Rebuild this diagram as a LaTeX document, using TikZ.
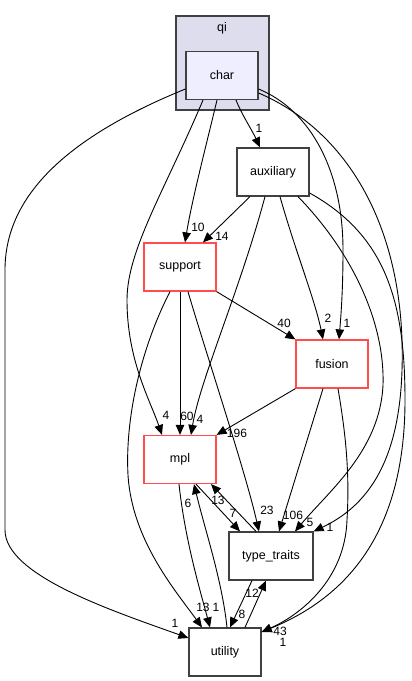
\documentclass[tikz,border=0pt]{standalone}
\usepackage{fontspec}
\setmainfont{Liberation Sans}
\usetikzlibrary{arrows.meta}
\definecolor{clfill}{HTML}{DDDDEE}
\definecolor{charfill}{HTML}{EEEEFF}
\definecolor{boxline}{HTML}{404040}
\definecolor{redline}{HTML}{FF4D4D}
\begin{document}
\begin{tikzpicture}[x=1pt,y=-1pt,
  dirbox/.style={draw=boxline,line width=1.2pt,fill=white,minimum width=72pt,minimum height=48pt,inner sep=0pt,font=\fontsize{12.5}{14}\selectfont},
  redbox/.style={dirbox,draw=redline},
  edge/.style={draw=black,line width=0.9pt,-{Triangle[length=10pt,width=8.5pt]}},
  lbl/.style={inner sep=0pt,font=\fontsize{12}{14}\selectfont}]
\useasboundingbox (0,0) rectangle (412,681);
% cluster
\node[draw=boxline,line width=1.2pt,fill=clfill,minimum width=93pt,minimum height=94pt,inner sep=0pt] (qi) at (222.5,63) {};
\node[lbl,font=\fontsize{12.5}{14}\selectfont] (qilabel) at (222,28) {qi};
% nodes
\node[dirbox,fill=charfill] (char) at (222,75.5) {char};
\node[dirbox] (auxiliary) at (273,172) {auxiliary};
\node[redbox] (support) at (180,267) {support};
\node[redbox] (fusion) at (332,364) {fusion};
\node[redbox] (mpl) at (180,459.5) {mpl};
\node[dirbox,minimum width=84pt] (type_traits) at (271,556) {type\_traits};
\node[dirbox] (utility) at (225,652) {utility};
% labels
\node[lbl] (l1) at (259,128) {1};
\node[lbl] (l2) at (198,227) {10};
\node[lbl] (l3) at (222,236) {14};
\node[lbl] (l4) at (166,415) {4};
\node[lbl] (l5) at (187,416) {60};
\node[lbl] (l6) at (200,419) {4};
\node[lbl] (l7) at (237,433) {196};
\node[lbl] (l8) at (284,323) {40};
\node[lbl] (l9) at (328,318) {2};
\node[lbl] (l10) at (347,323) {1};
\node[lbl] (l11) at (267,510) {23};
\node[lbl] (l12) at (293,515) {106};
\node[lbl] (l13) at (310,522) {5};
\node[lbl] (l14) at (330,527) {1};
\node[lbl] (l15) at (233,513) {7};
\node[lbl] (l16) at (218,500) {13};
\node[lbl] (l17) at (188,503) {6};
\node[lbl] (l18) at (203,607) {13};
\node[lbl] (l19) at (216,607) {1};
\node[lbl] (l20) at (175,623) {1};
\node[lbl] (l21) at (242,614) {8};
\node[lbl] (l22) at (252,593) {12};
\node[lbl] (l23) at (280,631) {43};
\node[lbl] (l24) at (283,642) {1};
% edges from char
\draw[edge] ([xshift=14pt]char.south) .. controls (242,115) and (252,130) .. ([xshift=-13pt]auxiliary.north);
\draw[edge] ([xshift=-5pt]char.south) .. controls (205,150) and (192,200) .. ([xshift=5pt]support.north);
\draw[edge] ([xshift=-19pt]char.south) .. controls (165,190) and (127,250) .. (127,300) .. controls (127,360) and (150,400) .. ([xshift=-18pt]mpl.north);
\draw[edge] ([yshift=-13.5pt]char.west) .. controls (60,140) and (5,200) .. (5,270) -- (5,530) .. controls (5,575) and (110,610) .. ([yshift=14pt]utility.west);
\draw[edge] ([yshift=-13.5pt]char.east) .. controls (310,110) and (343,170) .. (343,250) .. controls (343,290) and (341,315) .. ([xshift=7pt]fusion.north);
\draw[edge] ([yshift=-17.5pt]char.east) .. controls (345,130) and (398,220) .. (402,340) .. controls (405,440) and (380,500) .. (type_traits.north east);
% edges from auxiliary
\draw[edge] ([xshift=-23pt]auxiliary.south) -- ([xshift=23pt]support.north);
\draw[edge] ([xshift=-8pt]auxiliary.south) .. controls (240,290) and (200,380) .. ([xshift=11pt]mpl.north);
\draw[edge] ([xshift=7pt]auxiliary.south) .. controls (295,250) and (315,300) .. ([xshift=-9pt]fusion.north);
\draw[edge] ([xshift=25pt]auxiliary.south) .. controls (350,250) and (385,320) .. (383,385) .. controls (380,450) and (330,490) .. ([xshift=24pt]type_traits.north);
\draw[edge] ([yshift=-21pt]auxiliary.east) .. controls (385,235) and (405,300) .. (405,400) .. controls (405,540) and (340,600) .. ([yshift=20pt]utility.east);
% edges from support
\draw[edge] (support.south) -- (mpl.north);
\draw[edge] (support.south east) -- (fusion.north west);
\draw[edge] ([xshift=8pt]support.south) .. controls (205,350) and (245,470) .. ([xshift=-12pt]type_traits.north);
\draw[edge] ([xshift=-10pt]support.south) .. controls (140,350) and (125,420) .. (128,475) .. controls (132,540) and (175,590) .. ([xshift=-23pt]utility.north);
% edges from fusion
\draw[edge] (fusion.south west) -- (mpl.north east);
\draw[edge] ([xshift=-9pt]fusion.south) -- ([xshift=8pt]type_traits.north);
\draw[edge] ([xshift=6pt]fusion.south) .. controls (345,430) and (350,470) .. (347,520) .. controls (345,580) and (300,615) .. ([yshift=20pt]utility.east);
% edges among mpl, type_traits, utility
\draw[edge] ([xshift=-1pt]mpl.south) .. controls (185,540) and (200,590) .. ([xshift=-15pt]utility.north);
\draw[edge] ([xshift=2pt]utility.north) .. controls (222,580) and (205,530) .. ([xshift=14pt]mpl.south);
\draw[edge] ([xshift=16pt]mpl.south) -- ([xshift=-31pt]type_traits.north);
\draw[edge] ([xshift=-15pt]type_traits.north) -- ([xshift=31pt]mpl.south);
\draw[edge] ([xshift=-19pt]type_traits.south) -- ([xshift=5pt]utility.north);
\draw[edge] ([xshift=20pt]utility.north) -- ([xshift=-5pt]type_traits.south);
\end{tikzpicture}
\end{document}
